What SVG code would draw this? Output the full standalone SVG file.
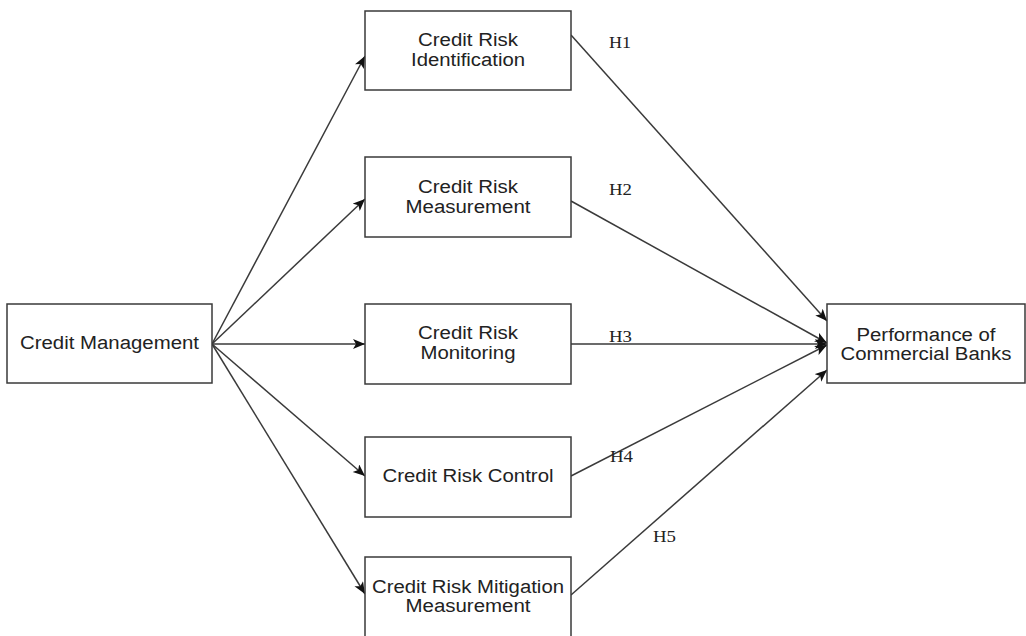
<svg xmlns="http://www.w3.org/2000/svg" width="1026" height="636" viewBox="0 0 1026 636">
<style>
.box{fill:#fff;stroke:#3a3a3a;stroke-width:1.5}
.lbl{font-family:"Liberation Sans",Arial,sans-serif;font-size:18px;fill:#222;text-anchor:middle}
.h{font-family:"Liberation Serif","Times New Roman",serif;font-size:16px;fill:#222}
.con{stroke:#3a3a3a;stroke-width:1.5;fill:none;marker-end:url(#arr)}
</style>
<defs>
<marker id="arr" markerUnits="userSpaceOnUse" markerWidth="14" markerHeight="12" refX="12" refY="5" orient="auto">
<path d="M0,0 L12,5 L0,10 L3,5 z" fill="#111"/>
</marker>
</defs>
<rect width="1026" height="636" fill="#fff"/>
<g id="connectors">
<line class="con" x1="212" y1="344" x2="365" y2="56"/>
<line class="con" x1="212" y1="344" x2="365" y2="199"/>
<line class="con" x1="212" y1="344" x2="365" y2="344"/>
<line class="con" x1="212" y1="344" x2="365" y2="476"/>
<line class="con" x1="212" y1="344" x2="365" y2="594"/>
<line class="con" x1="571" y1="35" x2="827" y2="321"/>
<line class="con" x1="571" y1="201" x2="827" y2="343"/>
<line class="con" x1="571" y1="344" x2="827" y2="344"/>
<line class="con" x1="571" y1="476" x2="827" y2="345"/>
<line class="con" x1="571" y1="595" x2="827" y2="370"/>
<text class="h" x="609" y="48" textLength="22" lengthAdjust="spacingAndGlyphs">H1</text>
<text class="h" x="609" y="195" textLength="23" lengthAdjust="spacingAndGlyphs">H2</text>
<text class="h" x="609" y="342" textLength="23" lengthAdjust="spacingAndGlyphs">H3</text>
<text class="h" x="610" y="462" textLength="23" lengthAdjust="spacingAndGlyphs">H4</text>
<text class="h" x="653" y="542" textLength="23" lengthAdjust="spacingAndGlyphs">H5</text>
</g>
<g id="credit-management">
<rect class="box" x="7" y="304" width="205" height="79"/>
<text class="lbl" x="109.5" y="349" textLength="179" lengthAdjust="spacingAndGlyphs">Credit Management</text>
</g>
<g id="identification">
<rect class="box" x="365" y="11" width="206" height="79"/>
<text class="lbl" x="468" y="46" textLength="100" lengthAdjust="spacingAndGlyphs">Credit Risk</text>
<text class="lbl" x="468" y="66" textLength="114" lengthAdjust="spacingAndGlyphs">Identification</text>
</g>
<g id="measurement">
<rect class="box" x="365" y="157" width="206" height="80"/>
<text class="lbl" x="468" y="193" textLength="100" lengthAdjust="spacingAndGlyphs">Credit Risk</text>
<text class="lbl" x="468" y="213" textLength="125" lengthAdjust="spacingAndGlyphs">Measurement</text>
</g>
<g id="monitoring">
<rect class="box" x="365" y="304" width="206" height="80"/>
<text class="lbl" x="468" y="339" textLength="100" lengthAdjust="spacingAndGlyphs">Credit Risk</text>
<text class="lbl" x="468" y="359" textLength="95" lengthAdjust="spacingAndGlyphs">Monitoring</text>
</g>
<g id="control">
<rect class="box" x="365" y="437" width="206" height="80"/>
<text class="lbl" x="468" y="482" textLength="171" lengthAdjust="spacingAndGlyphs">Credit Risk Control</text>
</g>
<g id="mitigation">
<rect class="box" x="365" y="557" width="206" height="80"/>
<text class="lbl" x="468" y="593" textLength="192" lengthAdjust="spacingAndGlyphs">Credit Risk Mitigation</text>
<text class="lbl" x="468" y="612" textLength="125" lengthAdjust="spacingAndGlyphs">Measurement</text>
</g>
<g id="performance">
<rect class="box" x="827" y="304" width="198" height="79"/>
<text class="lbl" x="926" y="341" textLength="139" lengthAdjust="spacingAndGlyphs">Performance of</text>
<text class="lbl" x="926" y="360" textLength="171" lengthAdjust="spacingAndGlyphs">Commercial Banks</text>
</g>
</svg>
